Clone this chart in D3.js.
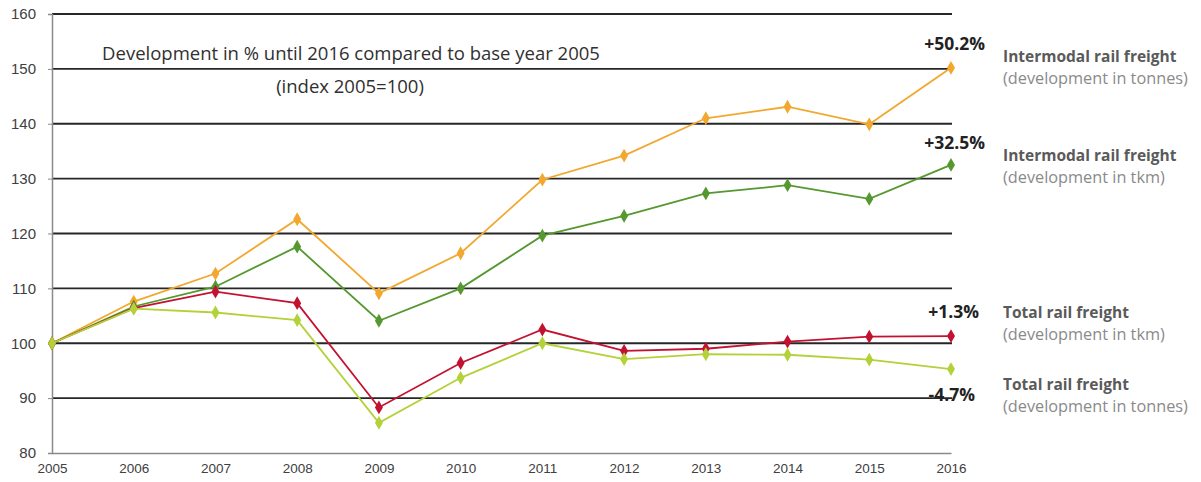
<!DOCTYPE html>
<html>
<head>
<meta charset="utf-8">
<script src="https://cdn.jsdelivr.net/npm/d3@7"></script>
<style>
  html, body { margin: 0; padding: 0; background: #fff; }
  svg { display: block; font-family: "Open Sans", "Liberation Sans", sans-serif; }
</style>
</head>
<body>
<svg id="chart" width="1201" height="482"></svg>
<script>
// Index values (2005 = 100) for rail freight development
const years = [2005, 2006, 2007, 2008, 2009, 2010, 2011, 2012, 2013, 2014, 2015, 2016];
const intermodalTonnes = [100, 107.6, 112.7, 122.6, 109.1, 116.4, 129.8, 134.2, 141.0, 143.1, 139.9, 150.2];
const intermodalTkm    = [100, 106.7, 110.3, 117.6, 104.1, 110.0, 119.6, 123.2, 127.3, 128.8, 126.3, 132.5];
const totalTkm         = [100, 106.4, 109.4, 107.3, 88.3, 96.4, 102.5, 98.6, 99.0, 100.3, 101.2, 101.3];
const totalTonnes      = [100, 106.3, 105.6, 104.2, 85.5, 93.7, 100.0, 97.1, 98.0, 97.9, 97.0, 95.3];
const yTicks = [80, 90, 100, 110, 120, 130, 140, 150, 160];

const seriesNames = ["Intermodal rail freight", "Intermodal rail freight", "Total rail freight", "Total rail freight"];
const seriesUnits = ["(development in tonnes)", "(development in tkm)", "(development in tkm)", "(development in tonnes)"];
const seriesLabels = ["+50.2%", "+32.5%", "+1.3%", "-4.7%"];
const seriesColors = ["#f2a72e", "#54982f", "#c21230", "#b3d138"];

const series = [intermodalTonnes, intermodalTkm, totalTkm, totalTonnes].map((vals, i) => ({
  name: seriesNames[i], unit: seriesUnits[i], label: seriesLabels[i], color: seriesColors[i],
  values: vals.map((v, j) => ({ year: years[j], value: v }))
}));

const svg = d3.select("#chart");
const plotLeft = 52, plotRight = 951, plotTop = 14, plotBottom = 453;

const x = d3.scaleLinear().domain([2005, 2016]).range([plotLeft, plotRight]);
const y = d3.scaleLinear().domain([80, 160]).range([plotBottom, plotTop]);

// Horizontal gridlines
svg.append("g")
  .selectAll("line")
  .data(yTicks.filter(t => t !== 80))
  .join("line")
  .attr("x1", plotLeft).attr("x2", plotRight + 1)
  .attr("y1", d => y(d)).attr("y2", d => y(d))
  .attr("stroke", "#262626").attr("stroke-width", 1.8);

// Y axis
const yAxis = svg.append("g")
  .attr("transform", `translate(${plotLeft},0)`)
  .call(d3.axisLeft(y).tickValues(yTicks).tickSize(4).tickPadding(12).tickFormat(d3.format("d")));
yAxis.select(".domain").attr("stroke", "#8a8a8a").attr("stroke-width", 1.5);
yAxis.selectAll(".tick line").attr("stroke", "#8a8a8a");
yAxis.selectAll(".tick text").attr("fill", "#404040").style("font-size", "15px");

// X axis
const xAxis = svg.append("g")
  .attr("transform", `translate(0,${plotBottom})`)
  .call(d3.axisBottom(x).tickValues(years).tickSize(0).tickPadding(10).tickFormat(d3.format("d")));
xAxis.select(".domain").attr("stroke", "#8a8a8a").attr("stroke-width", 1.5);
xAxis.selectAll(".tick text").attr("fill", "#404040").style("font-size", "13.5px");

// Title inside the plot
svg.append("text")
  .attr("x", 351).attr("y", 60)
  .attr("text-anchor", "middle")
  .attr("fill", "#303030")
  .style("font-size", "18.5px")
  .text("Development in % until 2016 compared to base year 2005");
svg.append("text")
  .attr("x", 350).attr("y", 93)
  .attr("text-anchor", "middle")
  .attr("fill", "#303030")
  .style("font-size", "18.5px")
  .text("(index 2005=100)");

// Lines and diamond markers
const line = d3.line().x(d => x(d.year)).y(d => y(d.value));
const diamond = d3.symbol().type(d3.symbolDiamond).size(55);

const g = svg.append("g")
  .selectAll("g")
  .data(series)
  .join("g");

g.append("path")
  .attr("d", d => line(d.values))
  .attr("fill", "none")
  .attr("stroke", d => d.color)
  .attr("stroke-width", 1.8);

g.selectAll("path.marker")
  .data(d => d.values.map(v => ({ ...v, color: d.color })))
  .join("path")
  .attr("class", "marker")
  .attr("transform", d => `translate(${x(d.year)},${y(d.value)})`)
  .attr("d", diamond)
  .attr("fill", d => d.color);

// End-value annotations
const labelY = [50, 149, 318, 401];
const labelX = [985, 985, 979, 975];
svg.append("g")
  .selectAll("text")
  .data(series)
  .join("text")
  .attr("x", (d, i) => labelX[i])
  .attr("y", (d, i) => labelY[i])
  .attr("text-anchor", "end")
  .attr("fill", "#222")
  .style("font-size", "17.5px")
  .style("font-weight", "bold")
  .text(d => d.label);

// Side legend
const legY = [62, 161, 318, 390];
const leg = svg.append("g")
  .selectAll("g")
  .data(series)
  .join("g")
  .attr("transform", (d, i) => `translate(1003,${legY[i]})`);
leg.append("text")
  .attr("fill", "#5a5a5a")
  .style("font-size", "15.5px")
  .style("font-weight", "bold")
  .text(d => d.name);
leg.append("text")
  .attr("y", 22)
  .attr("fill", "#8a8a8a")
  .style("font-size", "16.3px")
  .text(d => d.unit);
</script>
</body>
</html>
